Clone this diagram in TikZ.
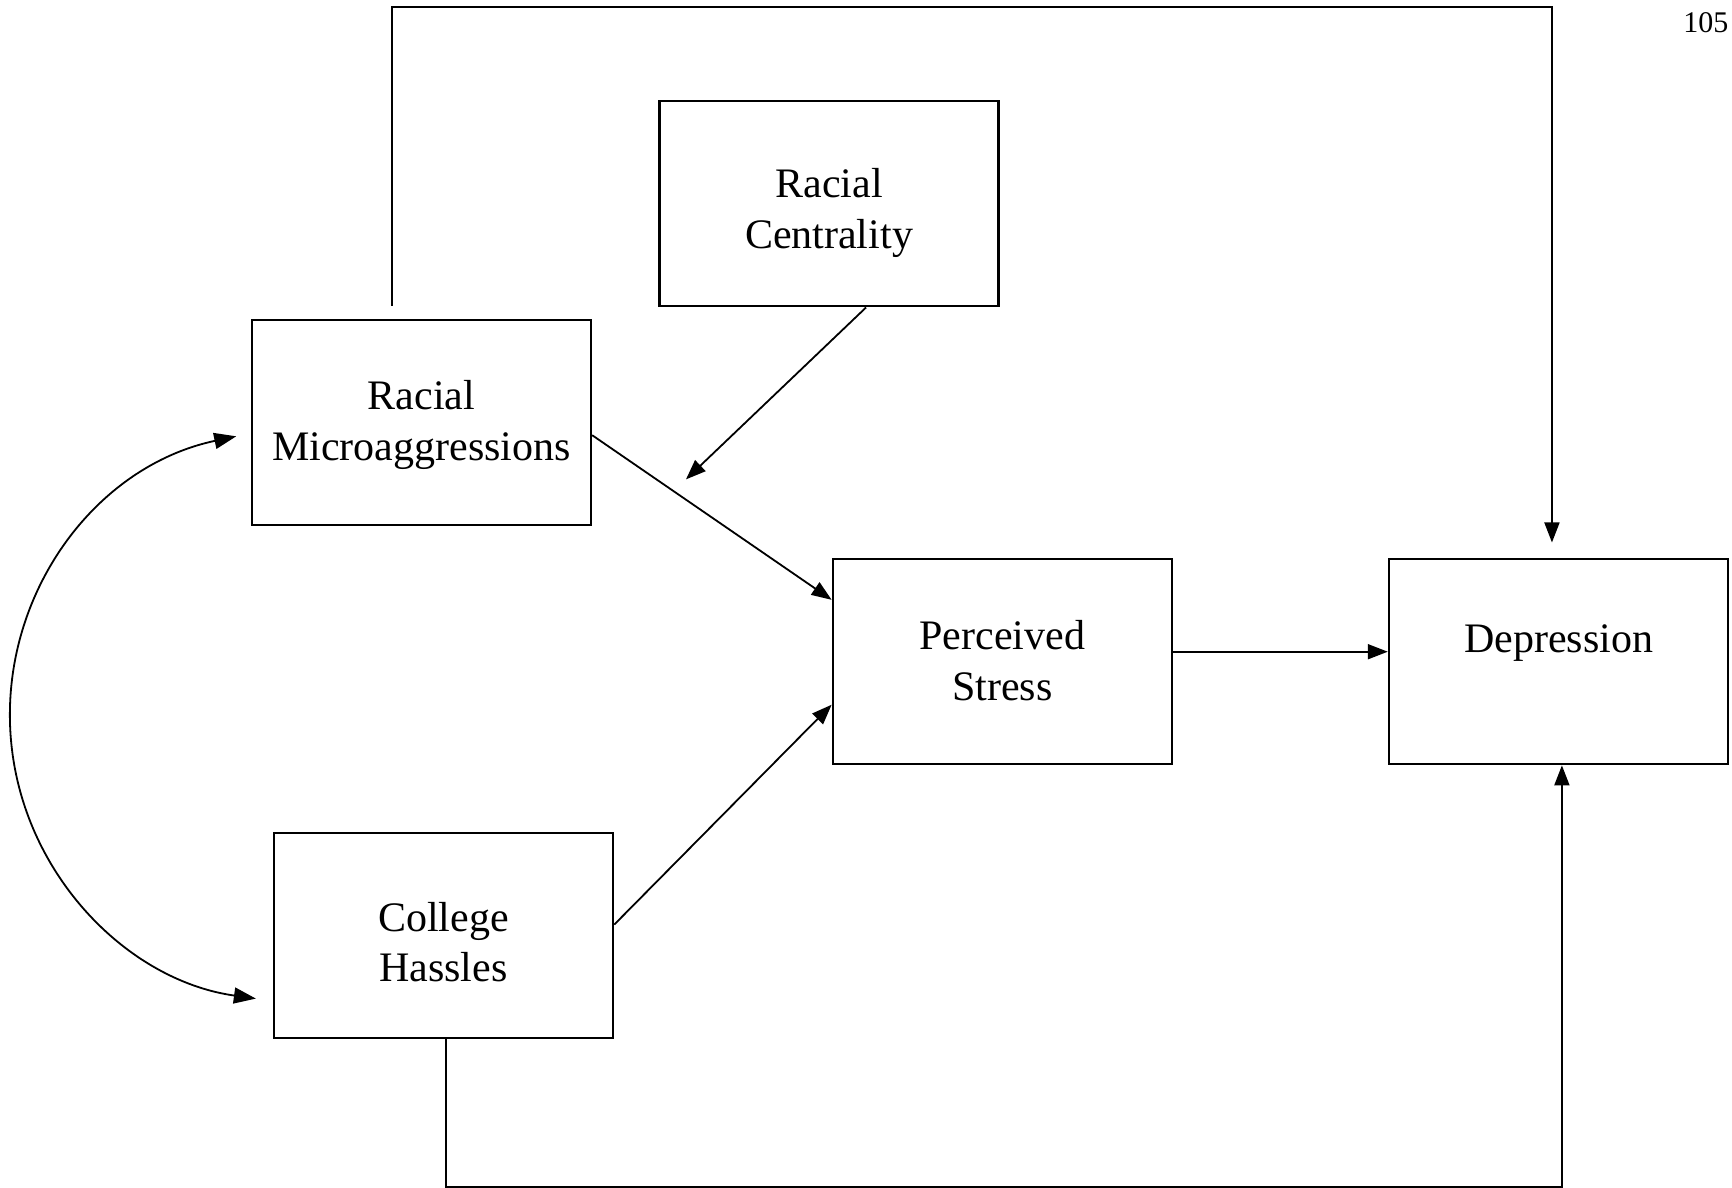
\documentclass[tikz,border=0pt]{standalone}
\usepackage{fontspec}
\setmainfont{Liberation Serif}
\usetikzlibrary{arrows.meta,calc}
\begin{document}
\begin{tikzpicture}[x=0.5523pt,y=-0.5523pt,
  box/.style={draw, line width=1.2pt, minimum width=169.6pt, minimum height=102.5pt, inner sep=0pt},
  lab/.style={align=center, inner sep=0pt, font=\fontsize{21}{25.4}\selectfont},
  conn/.style={line width=0.9pt, -{Triangle[length=10pt,width=7.5pt]}},
  plain/.style={line width=0.9pt}
  ]
\useasboundingbox (0,0) rectangle (1568,1075);
\node[box, label={[lab, yshift=-1.4pt]center:Racial\\Microaggressions}] (RM) at (381.5,382.5) {};
\node[box, label={[lab, yshift=-4.4pt]center:Racial\\Centrality}] (RC) at (750.5,184.5) {};
\node[box, label={[lab, yshift=0.4pt]center:Perceived\\Stress}] (PS) at (907.5,599) {};
\node[box, label={[lab, yshift=9.4pt]center:Depression}] (DEP) at (1411,599) {};
\node[box, label={[lab, yshift=-3.3pt]center:College\\Hassles}] (CH) at (401.5,847) {};
\node[anchor=base east, font=\fontsize{15}{18}\selectfont, inner sep=0pt] (PG) at (1565,29) {105};

% direct path RM -> Depression over the top
\coordinate (a1) at ($(RM.north)+(-26.5,-12)$);
\coordinate (dtop) at ($(DEP.north)+(-6,-14)$);
\draw[conn] (a1) -- (a1 |- 0,6) -| (dtop);

% direct path CH -> Depression along the bottom
\draw[conn] ($(CH.south)+(2.5,0)$) -- ++(0,134) -| ($(DEP.south)+(3,0)$);

% mediation paths
\draw[conn] ($(RM.east)+(0,11.5)$) -- ($(PS.west)+(0,-56)$);
\draw[conn] ($(CH.east)+(0,-10)$) -- ($(PS.west)+(0,39)$);
\draw[conn] ($(PS.east)+(0,-9)$) -- ($(DEP.west)+(0,-9)$);

% moderator
\coordinate (mod) at (621,434);
\draw[conn] ($(RC.south)+(33.5,0)$) -- (mod);

% covariance
\coordinate (c1) at ($(RM.west)+(-13,12.5)$);
\draw[plain, {Triangle[length=11pt,width=8pt]}-{Triangle[length=11pt,width=8pt]}] (c1) arc[start angle=258, end angle=98, radius=258.6];
\end{tikzpicture}
\end{document}
